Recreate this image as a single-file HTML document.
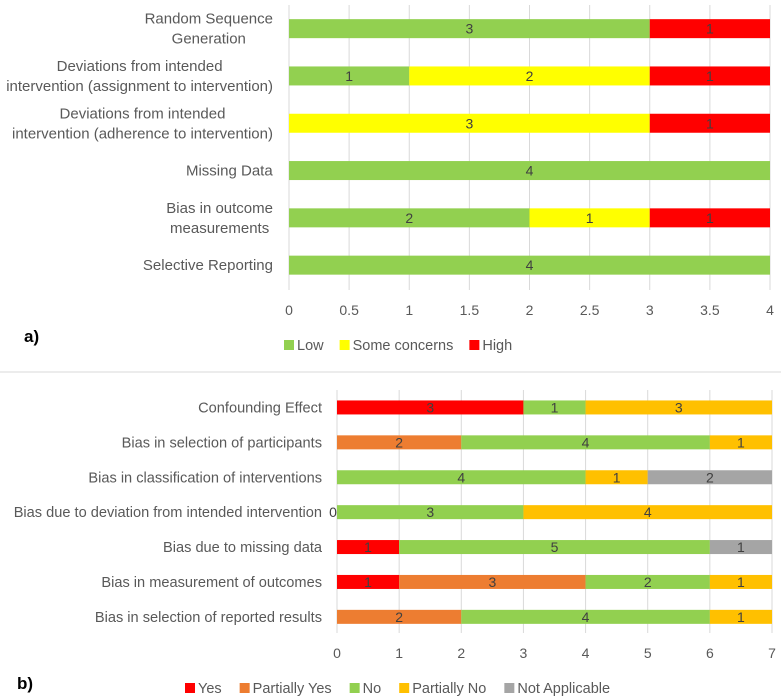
<!DOCTYPE html>
<html><head><meta charset="utf-8">
<style>
html,body{margin:0;padding:0;background:#fff;width:781px;height:698px;overflow:hidden}
svg{display:block;font-family:"Liberation Sans",sans-serif}
</style></head>
<body>
<svg id="chart" width="781" height="698" viewBox="0 0 781 698"></svg>
<script>
// Panel a data
const catsA = ["Random Sequence\nGeneration","Deviations from intended\nintervention (assignment to intervention)","Deviations from intended\nintervention (adherence to intervention)","Missing Data","Bias in outcome\nmeasurements","Selective Reporting"];
const seriesNamesA = ["Low","Some concerns","High"];
const lowA = [3,1,0,4,2,4];
const someA = [0,2,3,0,1,0];
const highA = [1,1,1,0,1,0];
const ticksA = ["0","0.5","1","1.5","2","2.5","3","3.5","4"];
// Panel b data
const catsB = ["Confounding Effect","Bias in selection of participants","Bias in classification of interventions","Bias due to deviation from intended intervention","Bias due to missing data","Bias in measurement of outcomes","Bias in selection of reported results"];
const seriesNamesB = ["Yes","Partially Yes","No","Partially No","Not Applicable"];
const yesB = [3,0,0,0,1,1,0];
const pyesB = [0,2,0,0,0,3,2];
const noB = [1,4,4,3,5,2,4];
const pnoB = [3,1,1,4,0,1,1];
const naB = [0,0,2,0,1,0,0];
const ticksB = ["0","1","2","3","4","5","6","7"];

const NS="http://www.w3.org/2000/svg";
const svg=document.getElementById('chart');
function mk(tag,attrs,parent){const e=document.createElementNS(NS,tag);for(const k in attrs)e.setAttribute(k,attrs[k]);(parent||svg).appendChild(e);return e;}
const GRAY="#595959";

function drawPanel(o){
  const g=mk('g',{});
  
  
  const xs=v=>o.x0+(v-o.min)/(o.max-o.min)*(o.x1-o.x0);
  const ys=i=>o.yTop+o.step*(i+0.5);
  o.ticks.forEach(t=>{
    const v=parseFloat(t);
    const l=mk('line',{x1:xs(v),x2:xs(v),y1:o.gTop,y2:o.gBot,stroke:"#d9d9d9","stroke-width":1},g);
    
    
    const tx=mk('text',{x:xs(v),y:o.tickY,"text-anchor":"middle","font-size":14,fill:GRAY},g);
    tx.textContent=t;
    
    
  });
  o.cats.forEach((c,i)=>{
    let acc=0;
    o.series.forEach((s,si)=>{
      const v=s[i];
      if(v>0){
        const r=mk('rect',{x:xs(acc),y:ys(i)-o.bh/2,width:xs(acc+v)-xs(acc),height:o.bh,fill:o.colors[si]},g);
        
        
        const t=mk('text',{x:(xs(acc)+xs(acc+v))/2,y:ys(i)+5,"text-anchor":"middle","font-size":14,fill:"#404040"},g);
        t.textContent=v;
        
        
      } else if(o.zeroLabel && o.zeroLabel(i,si)){
        const t=mk('text',{x:xs(acc)-4,y:ys(i)+5,"text-anchor":"middle","font-size":14,fill:"#404040"},g);
        t.textContent="0";
        
        
      }
      acc+=v;
    });
    const lines=c.split("\n");
    const t=mk('text',{x:o.labelX,"text-anchor":"end","font-size":o.labelSize,fill:GRAY,class:o.name+'-cat'},g);
    
    
    lines.forEach((ln,k)=>{
      const ts=mk('tspan',{x:o.labelX,y:ys(i)+5+(k-(lines.length-1)/2)*20},t);
      ts.textContent=ln;
    });
  });
  let lx=o.legX;
  o.names.forEach((n,si)=>{
    const r=mk('rect',{x:lx,y:o.legY-10,width:10,height:10,fill:o.colors[si]},g);
    
    
    const t=mk('text',{x:lx+13,y:o.legY,"font-size":14.5,fill:GRAY},g);
    t.textContent=n;
    
    
    lx+=13+t.getComputedTextLength()+o.legGap;
  });
}

drawPanel({name:'panel-a',cats:catsA,series:[lowA,someA,highA],colors:["#92d050","#ffff00","#ff0000"],names:seriesNamesA,
  ticks:ticksA,min:0,max:4,x0:289,x1:770,yTop:5,step:47.3,bh:19,gTop:5,gBot:290,tickY:315,
  labelX:273,labelSize:15,legX:284,legY:350,legGap:16});
// panel a labels: centered lines, right edge of widest at 273
document.querySelectorAll('.panel-a-cat').forEach(t=>{
  const w=t.getBBox().width; const cx=273-w/2;
  t.setAttribute('text-anchor','middle');
  t.setAttribute('x',cx); t.querySelectorAll('tspan').forEach(s=>s.setAttribute('x',cx));
});

drawPanel({name:'panel-b',cats:catsB,series:[yesB,pyesB,noB,pnoB,naB],colors:["#ff0000","#ed7d31","#92d050","#ffc000","#a5a5a5"],names:seriesNamesB,
  ticks:ticksB,min:0,max:7,x0:337,x1:772,yTop:390,step:34.9,bh:14,gTop:390,gBot:633,tickY:658,
  labelX:322,labelSize:14.6,legX:185,legY:693,legGap:18,zeroLabel:(i,si)=>i===3&&si===0});

const dv=mk('line',{x1:0,x2:781,y1:372,y2:372,stroke:"#d9d9d9","stroke-width":1});


const la=mk('text',{x:24,y:342,"font-size":17,"font-weight":"bold",fill:"#000"});
la.textContent="a)";


const lb=mk('text',{x:17,y:689,"font-size":17,"font-weight":"bold",fill:"#000"});
lb.textContent="b)";


</script>
</body></html>
